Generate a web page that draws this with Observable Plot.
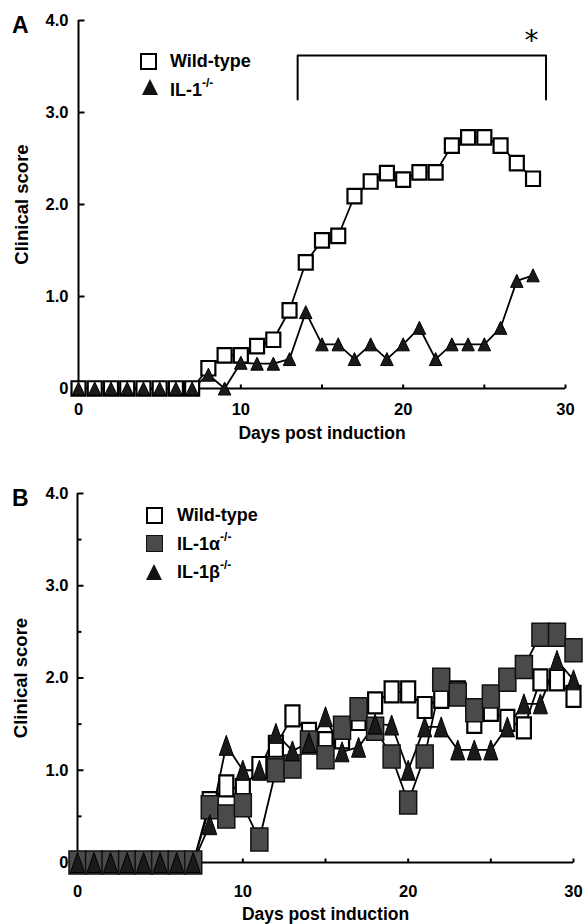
<!DOCTYPE html>
<html><head><meta charset="utf-8">
<script src="https://cdn.jsdelivr.net/npm/d3@7"></script>
<script src="https://cdn.jsdelivr.net/npm/@observablehq/plot@0.6"></script>
<style>
html,body{margin:0;padding:0;background:#fff;}
body{font-family:"Liberation Sans",Arial,Helvetica,sans-serif;width:584px;}
.panel{position:relative;width:584px;overflow:hidden;}
.panel svg.plot{position:absolute;left:0;top:0;}
.ov{position:absolute;z-index:2;font-weight:bold;color:#000;white-space:nowrap;}
.letter{font-size:23px;line-height:24px;}
.lg{font-size:18px;line-height:22px;}
.lg sup{font-size:12px;position:relative;top:-2px;vertical-align:top;line-height:12px;}
.sq{box-sizing:border-box;border:2.5px solid #000;background:#fff;}
.sqg{box-sizing:border-box;border:1.5px solid #111;background:#4a4a4a;}
</style></head><body>
<div id="panelA" class="panel" style="height:460px">
  <div class="ov letter" style="left:12px;top:13px">A</div>
  <div class="ov sq" style="left:140px;top:53px;width:17px;height:17px"></div>
  <div class="ov lg" style="left:170px;top:50px">Wild-type</div>
  <svg class="ov" style="left:141px;top:78px" width="18" height="18"><polygon points="9,1 17,17 1,17" fill="#111"/></svg>
  <div class="ov lg" style="left:170px;top:79px">IL-1<sup>-/-</sup></div>
</div>
<div id="panelB" class="panel" style="height:464px">
  <div class="ov letter" style="left:12px;top:26px">B</div>
  <div class="ov sq" style="left:146px;top:47px;width:17px;height:17px"></div>
  <div class="ov lg" style="left:177px;top:44px">Wild-type</div>
  <div class="ov sqg" style="left:146px;top:75px;width:17px;height:17px"></div>
  <div class="ov lg" style="left:177px;top:73px">IL-1α<sup>-/-</sup></div>
  <svg class="ov" style="left:145px;top:103px" width="18" height="18"><polygon points="9,1 17,17 1,17" fill="#111"/></svg>
  <div class="ov lg" style="left:177px;top:101px">IL-1β<sup>-/-</sup></div>
</div>
<script>
// ---------- Panel A data ----------
const daysA = [0,1,2,3,4,5,6,7,8,9,10,11,12,13,14,15,16,17,18,19,20,21,22,23,24,25,26,27,28];
const wildTypeA = [0,0,0,0,0,0,0,0,0.22,0.36,0.36,0.46,0.53,0.85,1.37,1.61,1.66,2.09,2.25,2.34,2.27,2.35,2.35,2.64,2.73,2.73,2.64,2.45,2.28];
const il1KoA = [0,0,0,0,0,0,0,0,0.15,0.0,0.28,0.27,0.27,0.32,0.83,0.48,0.48,0.32,0.48,0.32,0.48,0.66,0.32,0.48,0.48,0.48,0.66,1.17,1.23];

// ---------- Panel B data ----------
const daysB = [0,1,2,3,4,5,6,7,8,9,10,11,12,13,14,15,16,17,18,19,20,21,22,23,24,25,26,27,28,29,30];
const wildTypeB = [0,0,0,0,0,0,0,0,0.65,0.83,0.79,1.03,1.26,1.59,1.4,1.3,1.35,1.55,1.73,1.85,1.85,1.68,1.79,1.85,1.52,1.65,1.54,1.46,1.98,1.98,1.8];
const il1aKoB = [0,0,0,0,0,0,0,0,0.6,0.5,0.62,0.25,1.0,1.04,1.3,1.14,1.46,1.66,1.45,1.15,0.65,1.15,1.98,1.82,1.65,1.8,1.98,2.12,2.47,2.47,2.3];
const il1bKoB = [0,0,0,0,0,0,0,0,0.41,1.27,1.0,1.0,1.4,1.21,1.3,1.58,1.2,1.25,1.5,1.49,1.0,1.47,1.47,1.22,1.22,1.22,1.47,1.72,1.72,2.19,1.98];

// ---------- Axes / annotation ----------
const yTickValues = [0,1,2,3,4];
const yTickLabels = ["0","1.0","2.0","3.0","4.0"];
const yMinorTicksB = [0.5,1.5,2.5,3.5];
const xTickValues = [0,10,20,30];
const xTickLabels = ["0","10","20","30"];
const xMinorTicks = [5,15,25];
const xTitle = "Days post induction";
const yTitle = "Clinical score";
const sigBracketDays = [13.5, 28.8];
const sigBracketScores = [3.14, 3.62];
const sigMark = "*";

// ---------- helpers ----------
const rectSym = (w, h) => ({draw(ctx){ctx.moveTo(-w/2,-h/2);ctx.lineTo(w/2,-h/2);ctx.lineTo(w/2,h/2);ctx.lineTo(-w/2,h/2);ctx.closePath();}});
const triSym = (w, h) => ({draw(ctx){ctx.moveTo(0,-h/2);ctx.lineTo(w/2,h/2);ctx.lineTo(-w/2,h/2);ctx.closePath();}});
const hTick = (len) => ({draw(ctx){ctx.moveTo(0,0);ctx.lineTo(len,0);}});
const vTick = (len) => ({draw(ctx){ctx.moveTo(0,0);ctx.lineTo(0,-len);}});
const font = '"Liberation Sans", Arial, Helvetica, sans-serif';
const series = (days, vals) => days.map((d,i) => ({day: d, score: vals[i]}));

function axisMarks({yMinor, xLabelDy, xTitleDy, yLabelDx}) {
  const m = [
    Plot.ruleX([0], {y1: 0, y2: 4, stroke: "#000", strokeWidth: 2}),
    Plot.ruleY([0], {x1: 0, x2: 30, stroke: "#000", strokeWidth: 2}),
    Plot.dot(yTickValues.slice(1), {x: 0, y: d => d, symbol: hTick(6), r: 3, stroke: "#000", strokeWidth: 2, fill: "none"}),
    Plot.dot(xMinorTicks.concat(xTickValues.slice(1)), {x: d => d, y: 0, symbol: vTick(4), r: 3, stroke: "#000", strokeWidth: 2, fill: "none"}),
    Plot.text(yTickValues, {x: 0, y: d => d, text: (d, i) => yTickLabels[i], textAnchor: "end", dx: yLabelDx, fontSize: 16.5, fontWeight: "bold", fontFamily: font, fill: "#000"}),
    Plot.text(xTickValues, {x: d => d, y: 0, text: (d, i) => xTickLabels[i], dy: xLabelDy, fontSize: 16.5, fontWeight: "bold", fontFamily: font, fill: "#000"}),
    Plot.text([xTitle], {frameAnchor: "bottom", textAnchor: "middle", dy: xTitleDy, fontSize: 17.5, fontWeight: "bold", fontFamily: font, fill: "#000"}),
    Plot.text([yTitle], {frameAnchor: "left", textAnchor: "middle", dx: -56, rotate: -90, fontSize: 18.5, fontWeight: "bold", fontFamily: font, fill: "#000"})
  ];
  if (yMinor) m.push(Plot.dot(yMinor, {x: 0, y: d => d, symbol: hTick(4), r: 3, stroke: "#000", strokeWidth: 2, fill: "none"}));
  return m;
}

// ---------- Panel A ----------
const wtA = series(daysA, wildTypeA);
const koA = series(daysA, il1KoA);
const bracket = [
  {day: sigBracketDays[0], score: sigBracketScores[0]},
  {day: sigBracketDays[0], score: sigBracketScores[1]},
  {day: sigBracketDays[1], score: sigBracketScores[1]},
  {day: sigBracketDays[1], score: sigBracketScores[0]}
];
const plotA = Plot.plot({
  width: 584, height: 460,
  marginLeft: 78, marginRight: 19, marginTop: 20, marginBottom: 72,
  x: {domain: [0, 30], axis: null},
  y: {domain: [0, 4], axis: null},
  style: {background: "transparent", overflow: "visible"},
  marks: [
    ...axisMarks({yMinor: null, xLabelDy: 21, xTitleDy: 50, yLabelDx: -10}),
    Plot.line(bracket, {x: "day", y: "score", stroke: "#000", strokeWidth: 2}),
    Plot.text([sigMark], {x: sigBracketDays[1] - 0.9, y: 3.875, dy: 9, fontSize: 28, fontFamily: "DejaVu Sans", fill: "#000"}),
    Plot.line(wtA, {x: "day", y: "score", stroke: "#000", strokeWidth: 1.8}),
    Plot.line(koA, {x: "day", y: "score", stroke: "#000", strokeWidth: 1.8}),
    Plot.dot(wtA, {x: "day", y: "score", symbol: rectSym(14, 14.5), r: 5, fill: "#fff", stroke: "#000", strokeWidth: 2.2}),
    Plot.dot(koA, {x: "day", y: "score", symbol: triSym(12.5, 13), r: 5, fill: "#1a1a1a", stroke: "#000", strokeWidth: 1})
  ]
});
plotA.classList.add("plot");
document.getElementById("panelA").appendChild(plotA);

// ---------- Panel B ----------
const wtB = series(daysB, wildTypeB);
const aB = series(daysB, il1aKoB);
const bB = series(daysB, il1bKoB);
const plotB = Plot.plot({
  width: 584, height: 464,
  marginLeft: 77, marginRight: 11, marginTop: 33, marginBottom: 62,
  x: {domain: [0, 30], axis: null},
  y: {domain: [0, 4], axis: null},
  style: {background: "transparent", overflow: "visible"},
  marks: [
    ...axisMarks({yMinor: yMinorTicksB, xLabelDy: 29, xTitleDy: 57, yLabelDx: -9}),
    Plot.line(wtB, {x: "day", y: "score", stroke: "#000", strokeWidth: 1.8}),
    Plot.line(aB, {x: "day", y: "score", stroke: "#000", strokeWidth: 1.8}),
    Plot.line(bB, {x: "day", y: "score", stroke: "#000", strokeWidth: 1.8}),
    Plot.dot(wtB, {x: "day", y: "score", symbol: rectSym(14, 21), r: 5, fill: "#fff", stroke: "#000", strokeWidth: 2.2}),
    Plot.dot(aB, {x: "day", y: "score", symbol: rectSym(17, 23), r: 5, fill: "#4a4a4a", stroke: "#111", strokeWidth: 1.5}),
    Plot.dot(bB, {x: "day", y: "score", symbol: triSym(14, 20), r: 5, fill: "#1a1a1a", stroke: "#000", strokeWidth: 1})
  ]
});
plotB.classList.add("plot");
document.getElementById("panelB").appendChild(plotB);
</script>
</body></html>
